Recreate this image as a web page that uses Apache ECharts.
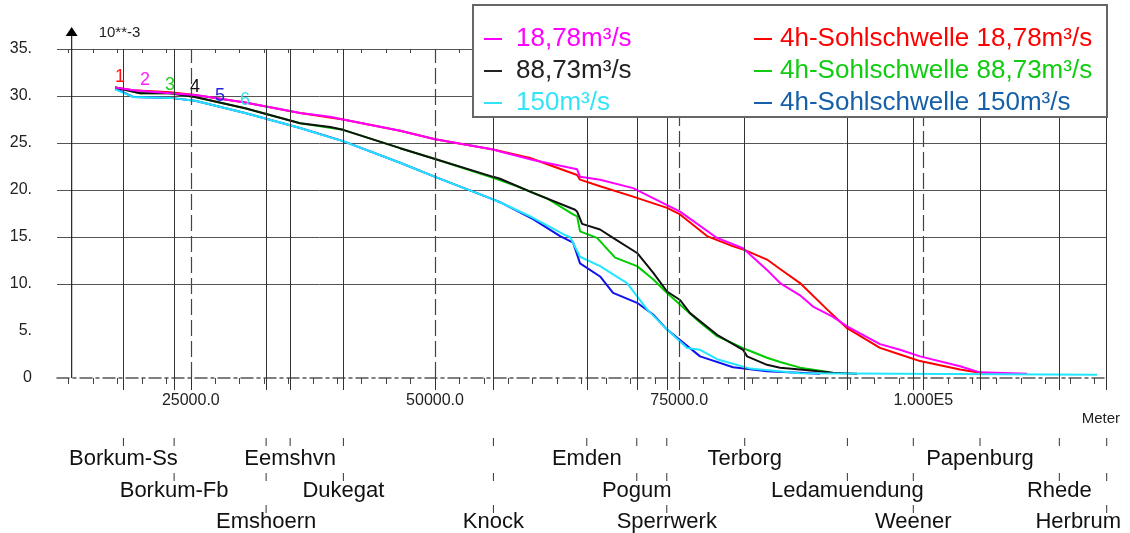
<!DOCTYPE html>
<html>
<head>
<meta charset="utf-8">
<script src="https://cdn.jsdelivr.net/npm/echarts@6/dist/echarts.min.js"></script>
<style>
  html, body { margin: 0; background: #fff; }
  #chart { width: 1130px; height: 533px; }
</style>
</head>
<body>
<div id="chart"></div>
<script>
// Laengsschnitt Ems: Werte in 10**-3 ueber Meter

const seriesNames = ['18,78m³/s', '88,73m³/s', '150m³/s',
  '4h-Sohlschwelle 18,78m³/s', '4h-Sohlschwelle 88,73m³/s', '4h-Sohlschwelle 150m³/s'];

const q1878 = [[17250,30.9],[19090,30.6],[22880,30.3],[25440,30.1],[30560,29.3],[36190,28.2],[39260,27.8],[40590,27.5],
  [46430,26.3],[50010,25.4],[55950,24.3],[56660,24.1],[60040,23.2],[64550,22.2],[64850,21.4],[66900,21.1],[70280,20.2],
  [73760,18.4],[75090,17.7],[78880,14.9],[81540,13.8],[83990,11.5],[85330,10.1],[87370,8.8],[88700,7.6],[90750,6.5],
  [92190,5.5],[95560,3.6],[97610,3.0],[99660,2.3],[103750,1.25],[105800,0.6],[110610,0.45]];

const q8873 = [[17250,30.9],[19810,30.3],[22880,30.3],[25440,29.9],[30560,28.7],[36190,27.1],[39260,26.7],[40590,26.4],
  [46430,24.45],[50010,23.3],[55950,21.4],[56660,21.2],[60040,19.7],[64340,17.9],[64550,17.7],[65060,16.4],[66900,15.8],
  [68230,14.9],[70690,13.3],[72330,11.2],[73760,9.2],[75090,8.3],[76110,6.9],[78880,4.6],[81540,3.0],[81950,2.3],
  [83990,1.4],[85330,1.1],[87370,0.9],[90750,0.55],[93210,0.45]];

const q150 = [[17250,30.7],[19090,29.9],[22880,29.8],[25440,29.5],[30560,28.2],[36190,26.6],[39260,25.6],[40590,25.2],
  [46430,22.9],[50010,21.4],[55950,19.0],[56660,18.7],[59940,17.1],[63520,15.1],[63830,15.0],[64850,12.9],[66900,11.9],
  [69660,10.1],[71710,7.3],[73760,5.15],[75810,3.2],[77140,3.0],[78880,2.0],[82260,1.0],[87370,0.5],[117780,0.35]];

const s4h1878 = [[17250,30.9],[19090,30.6],[22880,30.4],[25440,30.1],[30560,29.3],[36190,28.2],[40590,27.5],[46430,26.3],
  [50010,25.4],[55950,24.3],[59730,23.4],[64550,21.6],[64850,21.1],[66900,20.4],[70280,19.3],[73760,18.1],[75090,17.4],
  [77850,15.1],[80520,14.0],[81740,13.6],[83990,12.6],[85330,11.6],[87370,10.1],[90140,7.3],[92190,5.3],[95560,3.2],
  [97610,2.5],[99660,1.8],[103750,0.9],[105800,0.55],[108870,0.45]];

const s4h8873 = [[17250,30.9],[19810,30.3],[22880,30.3],[25440,29.9],[30560,28.7],[36190,27.1],[40590,26.4],[46430,24.45],
  [50010,23.3],[55950,21.3],[58400,20.4],[61470,19.1],[64140,17.4],[64550,17.2],[64850,15.6],[66590,14.9],[68440,12.8],
  [70690,11.9],[72330,10.5],[73760,9.05],[77140,5.9],[78880,4.45],[81950,3.0],[83990,2.15],[85330,1.7],[87370,1.1],
  [90450,0.6]];

const s4h150 = [[17250,30.8],[19090,29.9],[22880,29.8],[25440,29.5],[30560,28.2],[36190,26.6],[40590,25.2],[46430,22.9],
  [50010,21.4],[55950,19.0],[56660,18.7],[60040,16.9],[62810,15.1],[64140,14.4],[64850,12.2],[66900,10.8],[68230,9.05],
  [70690,8.0],[72330,6.75],[73760,5.15],[77140,2.3],[80520,1.15],[83990,0.72],[89420,0.45]];

// curve tags 1..6 near the start of the lines
const tagX = [17760, 20320, 22880, 25440, 28000, 30560];
const tagY = [32.0, 31.7, 31.2, 31.0, 30.0, 29.6];

const stationNames = ['Borkum-Ss', 'Borkum-Fb', 'Emshoern', 'Eemshvn', 'Dukegat', 'Knock', 'Emden', 'Pogum',
  'Sperrwerk', 'Terborg', 'Ledamuendung', 'Weener', 'Papenburg', 'Rhede', 'Herbrum'];
const stationPos = [18100, 23290, 32710, 35170, 40620, 55980, 65540, 70660, 73730, 81710, 92220, 98970, 105800,
  113920, 118770];

const xTickValues = [25000, 50000, 75000, 100000];
const xTickLabels = ['25000.0', '50000.0', '75000.0', '1.000E5'];
const yTickLabels = ['0', '5.', '10.', '15.', '20.', '25.', '30.', '35.'];
const yAxisAt = 12800;

const font = 'Liberation Sans';
const minorTicks = [];
for (let v = 12500; v < 118800; v += 2500) minorTicks.push(v);

// drawing order: 4h first, plain runs on top
const lines = [
  {name: seriesNames[5], data: s4h150, color: '#1010ee', text: '#1560a8', tag: 4, tagColor: '#2222dd'},
  {name: seriesNames[4], data: s4h8873, color: '#00cc00', text: '#11cc11', tag: 2, tagColor: '#22cc22'},
  {name: seriesNames[3], data: s4h1878, color: '#ff0000', text: '#ff0000', tag: 0, tagColor: '#ff1111'},
  {name: seriesNames[1], data: q8873, color: '#111111', text: '#222222', tag: 3, tagColor: '#111111'},
  {name: seriesNames[0], data: q1878, color: '#ff00ff', text: '#ff00ff', tag: 1, tagColor: '#ff22ff'},
  {name: seriesNames[2], data: q150, color: '#22e6ff', text: '#33e4f8', tag: 5, tagColor: '#33e0f0'}
];
const byName = n => lines.find(l => l.name === n);

const legendItem = n => ({
  name: n,
  itemStyle: {color: byName(n).text},
  textStyle: {color: byName(n).text}
});

const chart = echarts.init(document.getElementById('chart'));

const gridMarks = stationPos.map(v => ({xAxis: v, lineStyle: {color: '#333', width: 1, type: 'solid'}}))
  .concat(xTickValues.map(v => ({xAxis: v, lineStyle: {color: '#444', width: 1.2, type: [16, 5]}})));

chart.setOption({
  animation: false,
  textStyle: {fontFamily: font},
  grid: {left: 57, right: 23, top: 49, bottom: 155},
  legend: [{
    left: 479, top: 21, orient: 'vertical', itemGap: 6,
    icon: 'rect', itemWidth: 18, itemHeight: 2, z: 6,
    textStyle: {fontSize: 26, lineHeight: 26, padding: [0, 0, 0, 9], fontFamily: font},
    data: seriesNames.slice(0, 3).map(legendItem)
  }, {
    left: 749, top: 21, orient: 'vertical', itemGap: 6,
    icon: 'rect', itemWidth: 18, itemHeight: 2, z: 6,
    textStyle: {fontSize: 26, lineHeight: 26, padding: [0, 0, 0, 3], fontFamily: font},
    data: seriesNames.slice(3).map(legendItem)
  }],
  xAxis: [{
    type: 'value', min: 11300, max: 118800, position: 'bottom',
    name: 'Meter', nameLocation: 'end', nameGap: 13,
    nameTextStyle: {fontSize: 15, color: '#222', align: 'right', verticalAlign: 'top', padding: [33, 0, 0, 0]},
    axisLine: {show: true, lineStyle: {color: '#555', width: 1.5, type: [12, 4, 3, 4]}},
    axisTick: {show: true, customValues: minorTicks, length: 6, lineStyle: {color: '#444'}},
    axisLabel: {customValues: xTickValues, margin: 15, fontSize: 16, color: '#222',
      formatter: v => xTickLabels[xTickValues.indexOf(v)]},
    splitLine: {show: false}
  }, {
    type: 'value', min: 11300, max: 118800, position: 'bottom',
    axisLine: {show: false},
    axisTick: {show: true, customValues: stationPos.concat(xTickValues), length: 12, lineStyle: {color: '#333'}},
    axisLabel: {show: false},
    splitLine: {show: false}
  }, {
    type: 'value', min: 11300, max: 118800, position: 'top',
    axisLine: {show: false},
    axisTick: {show: true, inside: true, customValues: minorTicks, length: 4, lineStyle: {color: '#444'}},
    axisLabel: {show: false},
    splitLine: {show: false}
  }],
  yAxis: {
    type: 'value', min: 0, max: 35, interval: 5,
    axisLine: {show: false},
    axisTick: {show: false},
    axisLabel: {margin: 25, fontSize: 16, color: '#222', formatter: v => yTickLabels[v / 5]},
    splitLine: {show: true, showMinLine: false,
      lineStyle: {color: ['rgba(0,0,0,0)', '#555', '#555', '#555', '#555', '#555', '#555', '#555'], width: 1}}
  },
  series: [{
    type: 'line', name: 'grid', data: [], silent: true, z: 1,
    markLine: {silent: true, symbol: 'none', label: {show: false}, data: gridMarks, animation: false}
  }].concat(lines.map(l => ({
    type: 'line', name: l.name, data: l.data, showSymbol: false, symbol: 'none',
    lineStyle: {color: l.color, width: 2}, itemStyle: {color: l.color}, z: 2,
    markPoint: {
      symbol: 'circle', symbolSize: 0, silent: true,
      label: {show: true, position: 'inside', formatter: String(l.tag + 1), color: l.tagColor, fontSize: 18, fontFamily: font},
      data: [{coord: [tagX[l.tag], tagY[l.tag]]}]
    }
  })))
});

function decorate() {
  const px = v => chart.convertToPixel({xAxisIndex: 0}, v);
  const py = v => chart.convertToPixel({yAxisIndex: 0}, v);
  const ctx = document.createElement('canvas').getContext('2d');
  ctx.font = '22px "Liberation Sans"';
  const g = [];

  // legend frame
  g.push({type: 'rect', z: 5, shape: {x: 473, y: 5, width: 634, height: 112},
    style: {fill: '#fff', stroke: '#666', lineWidth: 2}});

  // y axis with arrow
  const ax = px(yAxisAt), top = py(35) - 13;
  g.push({type: 'line', z: 3, shape: {x1: ax, y1: py(0), x2: ax, y2: top}, style: {stroke: '#222', lineWidth: 1.2}});
  g.push({type: 'polygon', z: 3, shape: {points: [[ax - 6, top], [ax + 6, top], [ax, top - 9]]}, style: {fill: '#000'}});
  g.push({type: 'text', z: 3, style: {text: '10**-3', x: ax + 27, y: top - 3, fontSize: 15, fontFamily: font,
    fill: '#222', verticalAlign: 'middle'}});

  // station names in three rows
  const rowY = [459, 491, 522];
  const tickY = [[438, 446], [473, 481], [505, 513]];
  stationNames.forEach((name, i) => {
    const row = i % 3, x = px(stationPos[i]);
    for (let r = 0; r <= row; r++) {
      g.push({type: 'line', shape: {x1: x, y1: tickY[r][0], x2: x, y2: tickY[r][1]}, style: {stroke: '#333', lineWidth: 1}});
    }
    const w = ctx.measureText(name).width;
    const cx = Math.min(x, 1121 - w / 2);
    g.push({type: 'text', style: {text: name, x: cx, y: rowY[row], fontSize: 22, fontFamily: font, fill: '#111',
      align: 'center', verticalAlign: 'middle'}});
  });

  chart.setOption({graphic: g});
}
decorate();
</script>
</body>
</html>
